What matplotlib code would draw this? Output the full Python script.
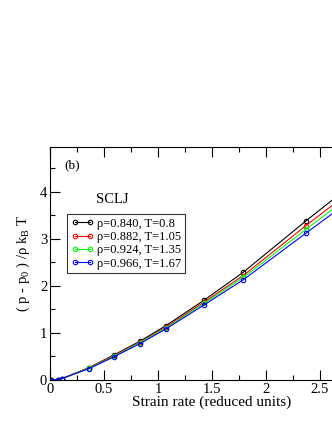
import matplotlib
matplotlib.use("Agg")
import matplotlib.pyplot as plt
from matplotlib.ticker import MultipleLocator

x = [0.0, 0.01, 0.07, 0.11, 0.36, 0.59, 0.83, 1.07, 1.43, 1.79, 2.37, 2.96]
y_840 = [0.0, 0.0, 0.01, 0.03, 0.26, 0.53, 0.82, 1.15, 1.70, 2.29, 3.38, 4.45]
y_882 = [0.0, 0.0, 0.01, 0.03, 0.26, 0.52, 0.80, 1.12, 1.66, 2.22, 3.28, 4.32]
y_924 = [0.0, 0.0, 0.01, 0.03, 0.25, 0.50, 0.79, 1.10, 1.63, 2.18, 3.20, 4.22]
y_966 = [0.0, 0.0, 0.01, 0.03, 0.24, 0.49, 0.77, 1.08, 1.60, 2.13, 3.12, 4.12]
labels = ["ρ=0.840, T=0.8", "ρ=0.882, T=1.05", "ρ=0.924, T=1.35", "ρ=0.966, T=1.67"]
colors = ["black", "red", "#00ff00", "blue"]
xtick_labels = ["0", "0.5", "1", "1.5", "2", "2.5", ""]

plt.rcParams['font.family'] = ['Liberation Serif', 'DejaVu Serif']
plt.rcParams['mathtext.fontset'] = 'custom'
plt.rcParams['mathtext.rm'] = 'Liberation Serif'
plt.rcParams['mathtext.it'] = 'Liberation Serif'

fig = plt.figure(figsize=(3.32, 4.30), dpi=100)
ax = fig.add_axes([50/332, 50/430, 324/332, 233/430])

for ys, c, lab in zip([y_840, y_882, y_924, y_966], colors, labels):
    ax.plot(x, ys, color=c, lw=0.8, marker='o', ms=3.2, mfc='none', mec=c, mew=0.8, label=lab)

ax.set_xlim(0, 3)
ax.set_ylim(0, 4.95)
ax.xaxis.set_minor_locator(MultipleLocator(0.25))
ax.yaxis.set_major_locator(MultipleLocator(1))
ax.yaxis.set_minor_locator(MultipleLocator(0.5))
ax.set_xticks([0, 0.5, 1, 1.5, 2, 2.5, 3])
ax.set_xticklabels(xtick_labels)
ax.tick_params(which='both', direction='in', top=True, right=True, labelsize=10.5, pad=2)
ax.tick_params(which='major', length=7, width=0.8)
ax.tick_params(which='minor', length=3.5, width=0.8)
for s in ax.spines.values():
    s.set_linewidth(0.8)

ax.set_xlabel("Strain rate (reduced units)", fontsize=11, labelpad=0)
ax.set_ylabel(r"( p - p$_0$ ) /ρ k$_{\rm B}$ T", fontsize=10.5, labelpad=6)

fig.text(64/332, 1 - 165/430, "(b)", fontsize=9.5, ha='left', va='center')
fig.text(112/332, 1 - 200/430, "SCLJ", fontsize=10.5, ha='center', va='center')

leg = ax.legend(loc='upper left', bbox_to_anchor=((67-50)/324, (380-214)/233), numpoints=2,
                fontsize=9, frameon=True, fancybox=False, edgecolor='black',
                handlelength=1.8, handletextpad=0.3, borderpad=0.3, labelspacing=0.1,
                borderaxespad=0)
leg.get_frame().set_linewidth(0.8)

fig.savefig("out.png", dpi=100)
